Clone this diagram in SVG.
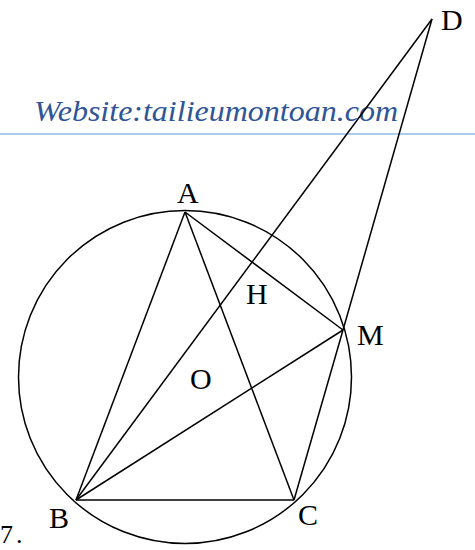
<svg xmlns="http://www.w3.org/2000/svg" width="475" height="550" viewBox="0 0 475 550">
<style>
.l{stroke:#000;stroke-width:1.5;fill:none}
.t{font-family:'Liberation Serif','Times New Roman',serif;font-size:30px;fill:#000}
.w{font-family:'Liberation Serif','Times New Roman',serif;font-style:italic;font-size:29px;fill:#2F5597}
</style>
<rect width="475" height="550" fill="#fff"/>
<g id="header">
<text class="w" x="34" y="121" textLength="364" lengthAdjust="spacingAndGlyphs">Website:tailieumontoan.com</text>
<line x1="0" y1="134" x2="475" y2="134" stroke="#5B9BD5" stroke-width="1.2"/>
</g>
<g id="circle"><circle class="l" cx="185" cy="377" r="166.5"/></g>
<g id="connectors">
<line class="l" x1="185" y1="212" x2="76" y2="500"/>
<line class="l" x1="185" y1="212" x2="294" y2="500"/>
<line class="l" x1="185" y1="212" x2="343" y2="330"/>
<line class="l" x1="76" y1="500" x2="294" y2="500"/>
<line class="l" x1="76" y1="500" x2="343" y2="330"/>
<line class="l" x1="294" y1="500" x2="343" y2="330"/>
<line class="l" x1="343" y1="330" x2="432" y2="19"/>
<line class="l" x1="76" y1="500" x2="432" y2="19"/>
</g>
<g id="A"><text class="t" x="177" y="203">A</text></g>
<g id="B"><text class="t" x="49" y="528">B</text></g>
<g id="C"><text class="t" x="298" y="525">C</text></g>
<g id="D"><text class="t" x="441" y="30">D</text></g>
<g id="M"><text class="t" x="357" y="345">M</text></g>
<g id="H"><text class="t" x="246" y="304">H</text></g>
<g id="O"><text class="t" x="190" y="389">O</text></g>
<g id="num"><text class="t" x="0" y="543" style="font-size:26px">7<tspan dx="3">.</tspan></text></g>
</svg>
